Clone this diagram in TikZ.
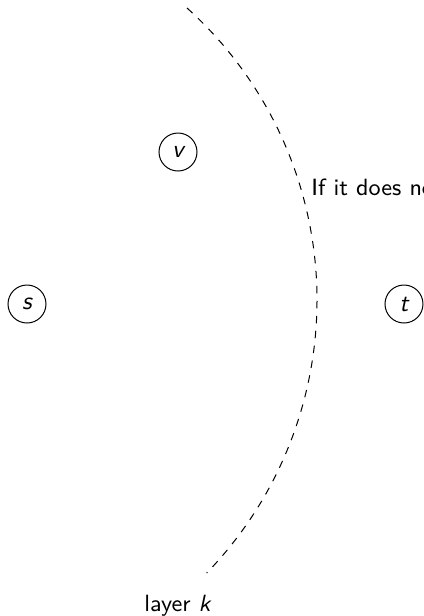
\documentclass[tikz,border=0pt]{standalone}
\begin{document}
\begin{tikzpicture}[x=0.4pt,y=-0.4pt,
  vertex/.style={draw,circle,minimum size=15.2pt,inner sep=0pt,font=\sffamily\itshape},
  lbl/.style={font=\fontsize{9.4}{11}\sffamily,inner sep=0pt},
  layerline/.style={dashed,line width=0.4pt}]
\useasboundingbox (0,0) rectangle (424,616);
\node[vertex] (v) at (178,152) {v};
\node[vertex] (s) at (27,304) {s};
\node[vertex] (t) at (404,304) {t};
% boundary of layer k: circular arc
\coordinate (c) at (-76,300);
\draw[layerline] ([shift={(c)}]-48:393) arc[start angle=48,end angle=-44,radius=157.2pt];
\node[lbl,anchor=base west] (note) at (311,195) {If it does no};
\node[lbl,anchor=base] (layer) at (178,611) {layer \textit{k}};
\end{tikzpicture}
\end{document}
